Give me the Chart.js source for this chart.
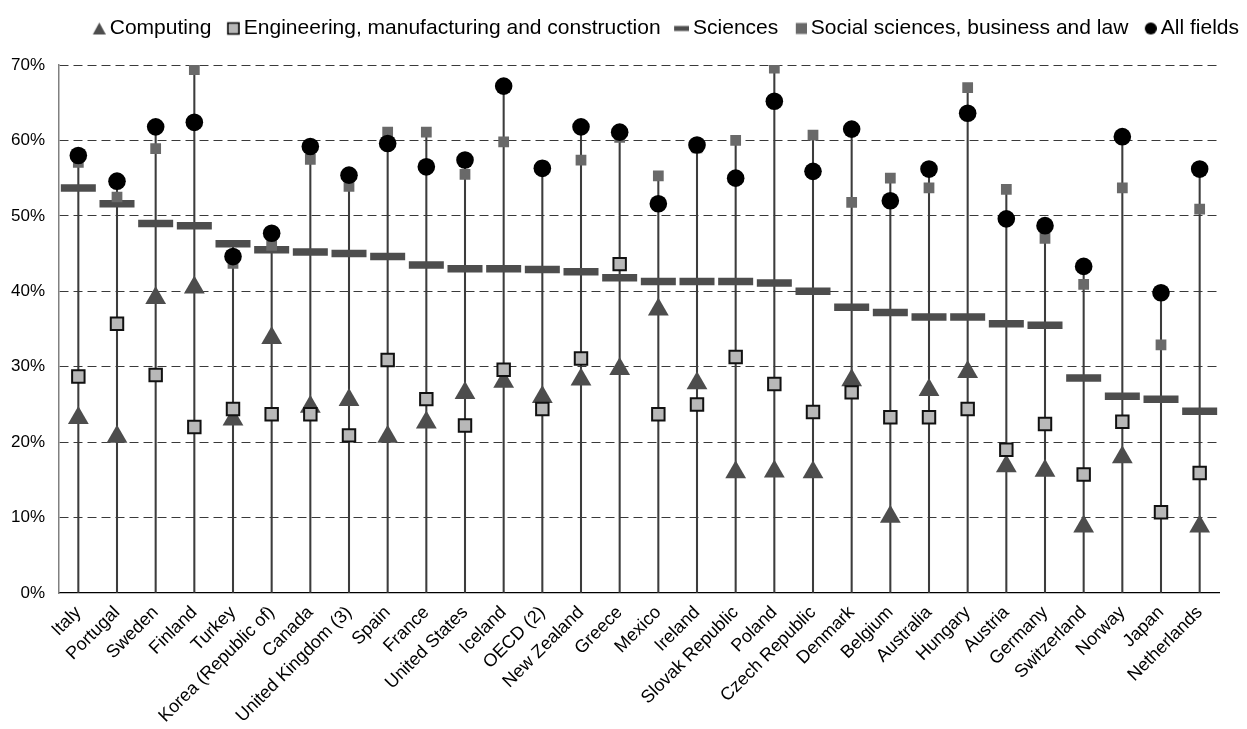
<!DOCTYPE html>
<html>
<head>
<meta charset="utf-8">
<script src="https://cdn.jsdelivr.net/npm/chart.js@4.4.0/dist/chart.umd.min.js"></script>
<style>
  html, body { margin: 0; padding: 0; background: #fff; }
  #wrap { width: 1247px; height: 729px; position: relative; }
</style>
</head>
<body>
<div id="wrap"><canvas id="chart"></canvas></div>
<script>
var countries = ['Italy', 'Portugal', 'Sweden', 'Finland', 'Turkey', 'Korea (Republic of)', 'Canada',
  'United Kingdom (3)', 'Spain', 'France', 'United States', 'Iceland', 'OECD (2)', 'New Zealand',
  'Greece', 'Mexico', 'Ireland', 'Slovak Republic', 'Poland', 'Czech Republic', 'Denmark', 'Belgium',
  'Australia', 'Hungary', 'Austria', 'Germany', 'Switzerland', 'Norway', 'Japan', 'Netherlands'];

var computing   = [23.2, 20.7, 39.1, 40.5, 23.0, 33.8, 24.7, 25.6, 20.7, 22.6, 26.5, 28.0, 26.0, 28.3, 29.7,
                   37.6, 27.8, 16.0, 16.1, 16.0, 28.2, 10.1, 26.9, 29.3, 16.8, 16.2, 8.8, 18.0, null, 8.8];
var engineering = [28.7, 35.7, 28.9, 22.0, 24.4, 23.7, 23.7, 20.9, 30.9, 25.7, 22.2, 29.6, 24.4, 31.1, 43.6,
                   23.7, 25.0, 31.3, 27.7, 24.0, 26.6, 23.3, 23.3, 24.4, 19.0, 22.4, 15.7, 22.7, 10.7, 15.9];
var sciences    = [53.7, 51.6, 49.0, 48.7, 46.3, 45.5, 45.2, 45.0, 44.6, 43.5, 43.0, 43.0, 42.9, 42.6, 41.8,
                   41.3, 41.3, 41.3, 41.1, 40.0, 37.9, 37.2, 36.6, 36.6, 35.7, 35.5, 28.5, 26.1, 25.7, 24.1];
var social      = [57.1, 52.5, 58.9, 69.4, 43.7, 46.1, 57.5, 53.9, 61.1, 61.1, 55.5, 59.8, 56.6, 57.4, 60.4,
                   55.3, 59.0, 60.0, 69.6, 60.7, 51.8, 55.0, 53.7, 67.0, 53.5, 47.0, 40.9, 53.7, 32.9, 50.9];
var allFields   = [58.0, 54.6, 61.8, 62.4, 44.6, 47.7, 59.2, 55.4, 59.6, 56.5, 57.4, 67.2, 56.3, 61.8, 61.1,
                   51.6, 59.4, 55.0, 65.2, 55.9, 61.5, 52.0, 56.2, 63.6, 49.6, 48.7, 43.3, 60.5, 39.8, 56.2];

var yTicks = [0, 10, 20, 30, 40, 50, 60, 70];

// vertical line from 0 up to the highest marker of each country
var dropLines = countries.map(function (c, i) {
  var vals = [computing[i], engineering[i], sciences[i], social[i], allFields[i]].filter(function (v) { return v !== null; });
  return [0, Math.max.apply(null, vals)];
});

// legend symbols: drawn at the right edge of a 27px canvas so they sit close to their text
function legendIcon(w, h, draw) {
  var c = document.createElement('canvas');
  c.width = 27; c.height = 16;
  var g = c.getContext('2d');
  g.translate(27 - w, (16 - h) / 2);
  draw(g);
  return c;
}
var icons = [
  legendIcon(13, 12, function (g) {
    g.fillStyle = '#4d4d4d';
    g.beginPath(); g.moveTo(6.5, 0); g.lineTo(13, 12); g.lineTo(0, 12); g.closePath(); g.fill();
  }),
  legendIcon(13, 13, function (g) {
    g.fillStyle = '#b8b8b8'; g.fillRect(1, 1, 11, 11);
    g.strokeStyle = '#000'; g.lineWidth = 1.5; g.strokeRect(1, 1, 11, 11);
  }),
  legendIcon(15, 5, function (g) {
    g.fillStyle = '#4d4d4d'; g.fillRect(0, 0, 15, 5);
  }),
  legendIcon(11, 11, function (g) {
    g.fillStyle = '#696969'; g.fillRect(0, 0, 11, 11);
  }),
  legendIcon(12, 12, function (g) {
    g.fillStyle = '#000';
    g.beginPath(); g.arc(6, 6, 6, 0, Math.PI * 2); g.fill();
  })
];

var legendHeight = {
  id: 'legendHeight',
  beforeInit: function (chart) {
    var fit = chart.legend.fit;
    chart.legend.fit = function () {
      fit.call(this);
      this.height = 55;
    };
  }
};

var font = 'Liberation Sans, Arial, sans-serif';

new Chart(document.getElementById('chart'), {
  type: 'line',
  data: {
    labels: countries,
    datasets: [
      {
        label: 'Computing', data: computing, showLine: false, order: 5,
        pointStyle: 'triangle', pointRadius: 12, pointBackgroundColor: '#4d4d4d', pointBorderWidth: 0
      },
      {
        label: 'Engineering, manufacturing and construction', data: engineering, showLine: false, order: 4,
        pointStyle: 'rect', pointRadius: 8.8, pointBackgroundColor: '#b8b8b8', pointBorderColor: '#111', pointBorderWidth: 2
      },
      {
        label: 'Sciences', data: sciences, showLine: false, order: 3,
        pointStyle: 'line', pointRadius: 17.5, pointBorderColor: '#4d4d4d', pointBorderWidth: 7.5
      },
      {
        label: 'Social sciences, business and law', data: social, showLine: false, order: 2,
        pointStyle: 'rect', pointRadius: 7.6, pointBackgroundColor: '#696969', pointBorderWidth: 0
      },
      {
        label: 'All fields', data: allFields, showLine: false, order: 1,
        pointStyle: 'circle', pointRadius: 8.8, pointBackgroundColor: '#000', pointBorderWidth: 0
      },
      {
        type: 'bar', label: 'drop', data: dropLines, order: 6,
        backgroundColor: '#3c3c3c', barThickness: 1.4, borderWidth: 0
      }
    ]
  },
  options: {
    responsive: true,
    maintainAspectRatio: false,
    animation: false,
    events: [],
    layout: { padding: { top: 10, left: 0, right: 0, bottom: 0 } },
    plugins: {
      tooltip: { enabled: false },
      legend: {
        display: true,
        position: 'top',
        align: 'end',
        labels: {
          usePointStyle: true,
          boxWidth: 14,
          boxHeight: 14,
          padding: 8,
          color: '#000',
          font: { family: font, size: 21 },
          filter: function (item) { return item.text !== 'drop'; },
          sort: function (a, b) { return a.datasetIndex - b.datasetIndex; },
          generateLabels: function (chart) {
            var items = Chart.defaults.plugins.legend.labels.generateLabels(chart);
            items.forEach(function (it) {
              if (icons[it.datasetIndex]) it.pointStyle = icons[it.datasetIndex];
            });
            return items;
          }
        }
      }
    },
    scales: {
      x: {
        offset: true,
        grid: { display: false, drawTicks: false },
        border: { display: true, color: '#000', width: 1.3 },
        ticks: {
          color: '#000',
          font: { family: font, size: 18 },
          minRotation: 45,
          maxRotation: 45,
          padding: 9,
          autoSkip: false
        },
        afterFit: function (scale) { scale.height = 136; }
      },
      y: {
        min: 0,
        max: 70,
        afterBuildTicks: function (scale) {
          scale.ticks = yTicks.map(function (v) { return { value: v }; });
        },
        grid: {
          drawTicks: false,
          color: function (ctx) { return ctx.tick && ctx.tick.value === 0 ? 'rgba(0,0,0,0)' : '#3a3a3a'; },
          lineWidth: 1
        },
        border: { display: true, color: '#808080', width: 1.5, dash: [9, 5] },
        ticks: {
          color: '#000',
          font: { family: font, size: 17 },
          padding: 14,
          callback: function (v) { return v + '%'; }
        },
        afterFit: function (scale) { scale.width = 59; }
      },
      yRight: {
        position: 'right',
        display: true,
        grid: { display: false, drawTicks: false },
        border: { display: false },
        ticks: { display: false },
        afterFit: function (scale) { scale.width = 28; }
      }
    }
  },
  plugins: [legendHeight]
});
</script>
</body>
</html>
